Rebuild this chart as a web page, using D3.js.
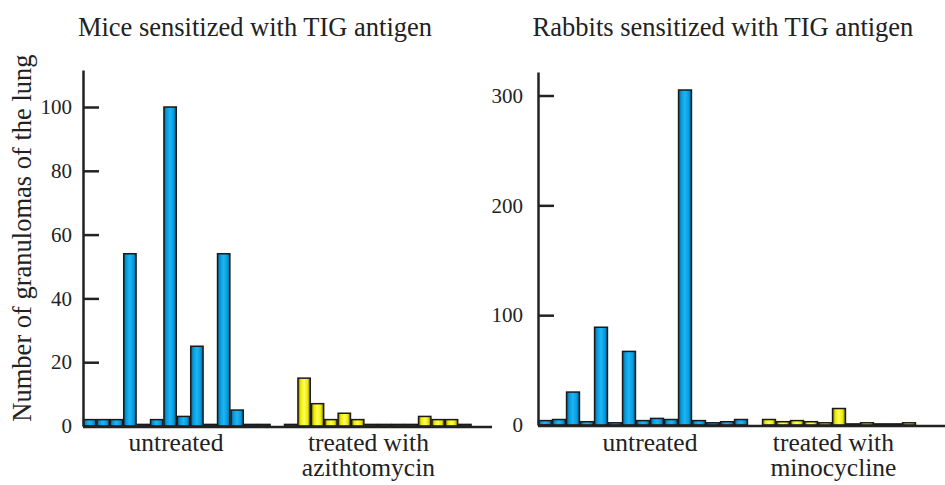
<!DOCTYPE html>
<html>
<head>
<meta charset="utf-8">
<script src="https://cdn.jsdelivr.net/npm/d3@7"></script>
<style>
  body { margin: 0; background: #fff; }
  text { font-family: "Liberation Serif", "Times New Roman", serif; fill: #222; }
</style>
</head>
<body>
<div id="chart"></div>
<script>
// mice, granulomas per animal
const miceUntreated = [2, 2, 2, 54, 0.5, 2, 100, 3, 25, 0.5, 54, 5, 0.5, 0.5]
const miceTreated = [0.5, 15, 7, 2, 4, 2, 0.5, 0.5, 0.5, 0.5, 3, 2, 2, 0.5]
const miceTicks = [0, 20, 40, 60, 80, 100]

// rabbits
const rabbitUntreated = [4, 5, 30, 3, 89, 2, 67, 4, 6, 5, 305, 4, 2, 3, 5]
const rabbitTreated = [5, 3, 4, 3, 2, 15, 1, 2, 1, 1, 2]
const rabbitTicks = [0, 100, 200, 300]

const width = 945
const height = 485
const serif = '"Liberation Serif", "Times New Roman", serif'

const svg = d3.select("#chart")
    .append('svg')
    .attr('width', width)
    .attr('height', height)

const defs = svg.append('defs')
const grad = (id, edge, mid, light) => {
    const g = defs.append('linearGradient').attr('id', id)
        .attr('x1', '0%').attr('x2', '100%').attr('y1', '0%').attr('y2', '0%')
    g.append('stop').attr('offset', '0%').attr('stop-color', edge)
    g.append('stop').attr('offset', '22%').attr('stop-color', mid)
    g.append('stop').attr('offset', '50%').attr('stop-color', light)
    g.append('stop').attr('offset', '78%').attr('stop-color', mid)
    g.append('stop').attr('offset', '100%').attr('stop-color', edge)
}
grad('blue', '#1c5a7e', '#009fe3', '#22b4f2')
grad('yellow', '#6e6a10', '#eeea00', '#ffff55')

const panel = cfg => {
    const { left, slotW, baseY, topY, max, ticks, pad, axisEnd, groups, title, titleX, labels } = cfg
    const nSlots = groups[0].length + 1 + groups[1].length
    const slots = d3.range(nSlots)

    const x = d3.scaleBand()
        .domain(slots)
        .range([left, left + nSlots * slotW])
        .paddingInner(0.08)
        .paddingOuter(0.04)

    const y = d3.scaleLinear()
        .domain([0, max])
        .range([baseY, topY])

    const bars = groups[0].map((v, i) => ({ slot: i, v, c: 'blue' }))
        .concat(groups[1].map((v, i) => ({ slot: groups[0].length + 1 + i, v, c: 'yellow' })))

    svg.append('g').selectAll('rect')
        .data(bars)
        .enter()
        .append('rect')
            .attr('x', d => x(d.slot))
            .attr('width', x.bandwidth())
            .attr('y', d => y(d.v))
            .attr('height', d => y(0) - y(d.v))
            .attr('fill', d => `url(#${d.c})`)
            .attr('stroke', '#1a1a1a')
            .attr('stroke-width', 1.5)

    const ax = svg.append('g')
        .attr('transform', `translate(${left},0)`)
        .call(d3.axisLeft(y).tickValues(ticks).tickSizeInner(-16).tickSizeOuter(0).tickPadding(pad))
    ax.select('.domain').attr('stroke', '#222').attr('stroke-width', 2.5)
    ax.selectAll('.tick line').attr('stroke', '#222').attr('stroke-width', 2.5)
    ax.selectAll('.tick text')
        .style('font-family', serif)
        .style('font-size', '21px')
        .attr('fill', '#222')

    svg.append('line')
        .attr('x1', left).attr('x2', axisEnd)
        .attr('y1', baseY + 1).attr('y2', baseY + 1)
        .attr('stroke', '#222').attr('stroke-width', 2.5)

    svg.append('text')
        .attr('x', titleX).attr('y', 36)
        .attr('text-anchor', 'middle')
        .style('font-family', serif)
        .style('font-size', '26.5px')
        .text(title)

    labels.forEach(l => {
        l.lines.forEach((s, i) => {
            svg.append('text')
                .attr('x', left + l.at * slotW)
                .attr('y', 451 + i * 25)
                .attr('text-anchor', 'middle')
                .style('font-family', serif)
                .style('font-size', '25.5px')
                .text(s)
        })
    })
}

panel({
    left: 83, slotW: 13.4, baseY: 426, topY: 70, max: 111.6, ticks: miceTicks, pad: 11,
    axisEnd: 492, groups: [miceUntreated, miceTreated],
    title: 'Mice sensitized with TIG antigen', titleX: 255,
    labels: [
        { at: 6.94, lines: ['untreated'] },
        { at: 21.3, lines: ['treated with', 'azithtomycin'] }
    ]
})

panel({
    left: 538, slotW: 14, baseY: 425, topY: 72, max: 321.4, ticks: rabbitTicks, pad: 15,
    axisEnd: 945, groups: [rabbitUntreated, rabbitTreated],
    title: 'Rabbits sensitized with TIG antigen', titleX: 723,
    labels: [
        { at: 8.0, lines: ['untreated'] },
        { at: 21.1, lines: ['treated with', 'minocycline'] }
    ]
})

svg.append('text')
    .attr('transform', 'translate(31,238) rotate(-90)')
    .attr('text-anchor', 'middle')
    .style('font-family', serif)
    .style('font-size', '26.5px')
    .text('Number of granulomas of the lung')
</script>
</body>
</html>
